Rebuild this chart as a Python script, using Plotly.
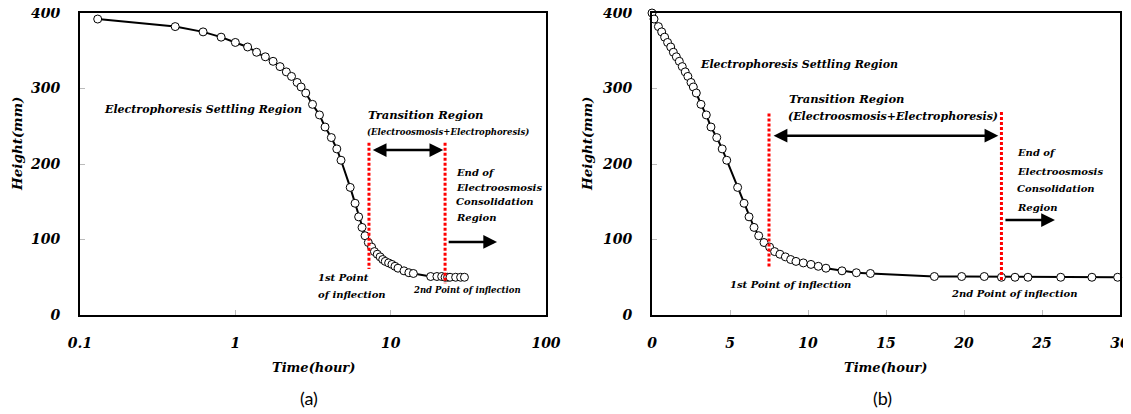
import numpy as np
import plotly.graph_objects as go

# ---------------- data ----------------
time_h = [0, 0.13, 0.41, 0.62, 0.81, 1.0, 1.2, 1.37, 1.56, 1.75, 1.94, 2.13, 2.3, 2.5, 2.65,
          2.84, 3.14, 3.48, 3.78, 4.15, 4.5, 4.79, 5.49, 5.9, 6.22, 6.54, 6.84, 7.18, 7.54,
          7.86, 8.2, 8.55, 8.89, 9.23, 9.7, 10.19, 10.66, 11.15, 12.18, 13.1, 14.0, 18.1,
          19.85, 21.3, 22.4, 23.27, 24.1, 26.2, 28.2, 29.85]
height_mm = [400, 392, 382, 375, 368, 361, 355, 348, 342, 336, 329, 322, 316, 308, 302,
             294, 279, 265, 249, 235, 220, 205, 169, 148, 130, 116, 105, 96, 90,
             84, 80.5, 77, 73.5, 71, 69, 67, 64.5, 62, 58.5, 56, 55, 51,
             51, 51, 50, 50, 50, 50, 50, 50]

y_ticks = [0, 100, 200, 300, 400]
x_ticks_log = [0.1, 1, 10, 100]
x_ticks_lin = [0, 5, 10, 15, 20, 25, 30]

inflection1_log = 7.25
inflection1_lin = 7.5
inflection2 = 22.4

end_lines = ["End of", "Electroosmosis", "Consolidation", "Region"]

# ---------------- layout helpers ----------------
PAGE_W, PAGE_H = 1131, 414
OFF = 8  # default page body margin
FW, FH = PAGE_W - OFF, PAGE_H - OFF
SERIF = "DejaVu Serif"
SANS = "Lato"


def fx(px):
    return (px - OFF) / FW


def fy(py):
    return 1 - (py - OFF) / FH


t_arr = np.array(time_h, dtype=float)
h_arr = np.array(height_mm, dtype=float)
pos = t_arr > 0

fig = go.Figure()

marker = dict(size=8, color="white", line=dict(color="black", width=1))
line = dict(color="black", width=2)

fig.add_trace(go.Scatter(x=t_arr[pos], y=h_arr[pos], mode="lines+markers", marker=marker,
                         line=line, xaxis="x", yaxis="y", cliponaxis=False, showlegend=False))
fig.add_trace(go.Scatter(x=t_arr, y=h_arr, mode="lines+markers", marker=marker,
                         line=line, xaxis="x2", yaxis="y2", cliponaxis=False, showlegend=False))

red = dict(color="red", width=3, dash="3px,2px")
fig.add_trace(go.Scatter(x=[inflection1_log, inflection1_log], y=[228, 61], mode="lines", line=red,
                         xaxis="x", yaxis="y", showlegend=False, hoverinfo="skip"))
fig.add_trace(go.Scatter(x=[inflection2, inflection2], y=[228, 42], mode="lines", line=red,
                         xaxis="x", yaxis="y", showlegend=False, hoverinfo="skip"))
fig.add_trace(go.Scatter(x=[inflection1_lin, inflection1_lin], y=[267, 62], mode="lines", line=red,
                         xaxis="x2", yaxis="y2", showlegend=False, hoverinfo="skip"))
fig.add_trace(go.Scatter(x=[inflection2, inflection2], y=[269, 45], mode="lines", line=red,
                         xaxis="x2", yaxis="y2", showlegend=False, hoverinfo="skip"))

ydom = [fy(315), fy(13)]
tickfont = dict(family=SERIF, size=14, color="black", weight="bold", style="italic")
common_axis = dict(showgrid=False, zeroline=False, showline=True, linecolor="black", linewidth=2,
                   mirror=True, ticks="inside", ticklen=5, tickwidth=1, tickcolor="#bbbbbb",
                   tickfont=tickfont, automargin=False, ticklabeloverflow="allow")

fig.update_layout(
    width=FW, height=FH, margin=dict(l=0, r=0, t=0, b=0, autoexpand=False),
    paper_bgcolor="white", plot_bgcolor="white", showlegend=False,
    xaxis=dict(domain=[fx(80), fx(546)], type="log", range=[-1, 2], anchor="y",
               tickvals=x_ticks_log, ticktext=["0.1", "1", "10", "100"],
               ticklabelstandoff=14, **common_axis),
    yaxis=dict(domain=ydom, range=[0, 400], anchor="x", tickvals=y_ticks,
               ticklabelstandoff=15, **common_axis),
    xaxis2=dict(domain=[fx(652), fx(1120)], range=[0, 30], anchor="y2",
                tickvals=x_ticks_lin, ticklabelstandoff=14, **common_axis),
    yaxis2=dict(domain=ydom, range=[0, 400], anchor="x2", tickvals=y_ticks,
                ticklabelstandoff=15, **common_axis),
)

ann = []


def txt(text, x, y, size, xr, yr, xanchor="left", align="left"):
    ann.append(dict(text="<b><i>" + text + "</i></b>", x=x, y=y, xref=xr, yref=yr,
                    xanchor=xanchor, yanchor="middle", align=align, showarrow=False,
                    font=dict(family=SERIF, size=size, color="black")))


def arrow(x0, x1, y, xr, yr, both=False):
    ann.append(dict(text="", x=x1, y=y, ax=x0, ay=y, xref=xr, yref=yr, axref=xr, ayref=yr,
                    showarrow=True, arrowhead=2, startarrowhead=2, arrowsize=1.1,
                    startarrowsize=1.1, arrowwidth=2.5, arrowcolor="black",
                    arrowside="end+start" if both else "end", standoff=0, startstandoff=0))


L = np.log10
# left panel (log x -> annotation coords in log10)
txt("Electrophoresis Settling Region", L(0.139), 272, 11, "x", "y")
txt("Transition Region", L(6.93), 265, 11.5, "x", "y")
txt("(Electroosmosis+Electrophoresis)", L(6.84), 242, 8.5, "x", "y")
arrow(L(7.5), L(21.8), 218.5, "x", "y", both=True)
for s, hy in zip(end_lines, [189.4, 169.5, 149.7, 129.8]):
    txt(s, L(25.6), hy, 10, "x", "y")
arrow(L(23.1), L(48.4), 96.7, "x", "y")
txt("1st Point", L(3.3), 50.3, 10, "x", "y")
txt("of inflection", L(3.3), 27.8, 10, "x", "y")
txt("2nd Point of inflection", L(13.5), 33, 8.5, "x", "y")

# right panel
txt("Electrophoresis Settling Region", 2.95, 332, 11, "x2", "y2")
txt("Transition Region", 8.65, 286, 11.5, "x2", "y2")
txt("(Electroosmosis+Electrophoresis)", 8.6, 263, 11, "x2", "y2")
arrow(7.7, 22.2, 237.5, "x2", "y2", both=True)
for s, hy in zip(end_lines, [214.6, 190.7, 166.9, 143.0]):
    txt(s, 23.27, hy, 10, "x2", "y2")
arrow(22.56, 25.83, 125.8, "x2", "y2")
txt("1st Point of inflection", 4.87, 41, 10, "x2", "y2")
txt("2nd Point of inflection", 19.04, 29, 10, "x2", "y2")

# axis titles and panel labels
for xc in (313, 885):
    txt("Time(hour)", fx(xc), fy(367), 13, "paper", "paper", xanchor="center", align="center")
for xc in (17, 587):
    ann.append(dict(text="<b><i>Height(mm)</i></b>", x=fx(xc), y=fy(144), xref="paper",
                    yref="paper", textangle=-90, showarrow=False, xanchor="center",
                    yanchor="middle", font=dict(family=SERIF, size=13.5, color="black")))
for lab, xc in (("(a)", 309), ("(b)", 882)):
    ann.append(dict(text=lab, x=fx(xc), y=fy(398), xref="paper", yref="paper",
                    showarrow=False, xanchor="center", yanchor="middle",
                    font=dict(family=SANS, size=18, color="black")))

fig.update_layout(annotations=ann)
fig.write_html("out.html")
